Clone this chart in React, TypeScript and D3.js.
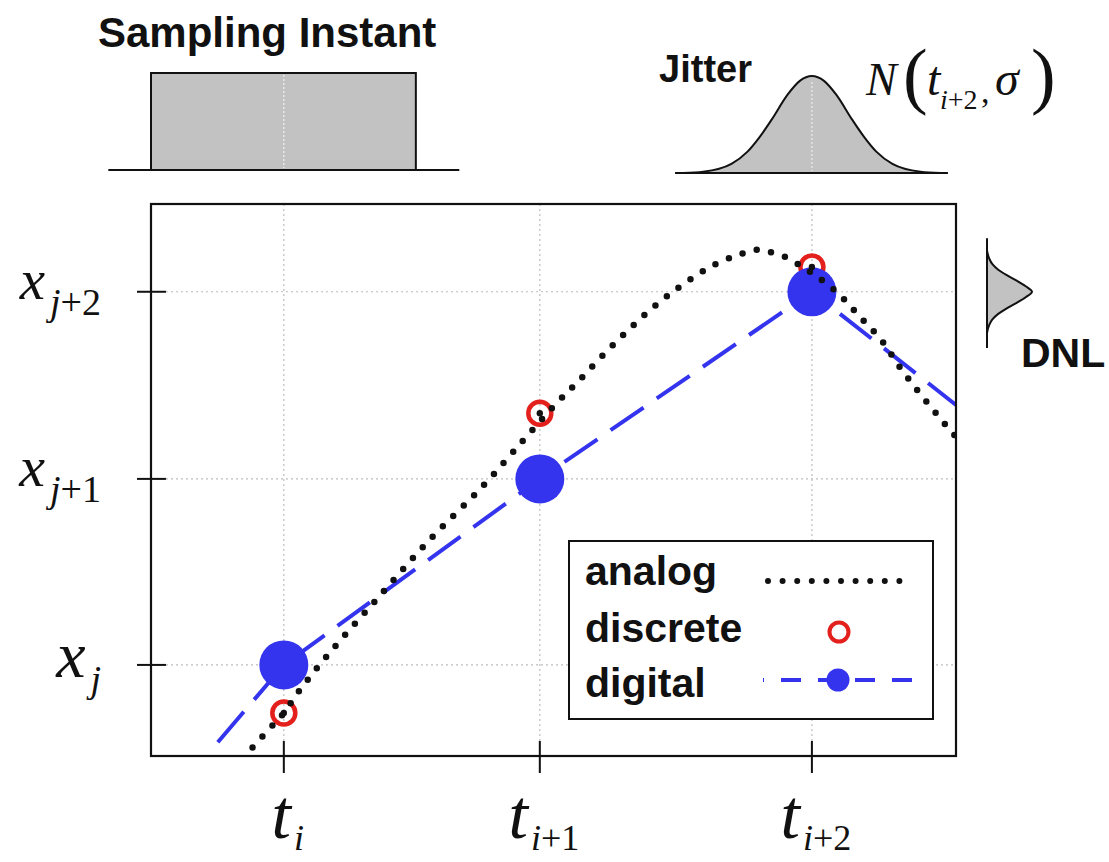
import React from 'react';
import * as d3 from 'd3';

// ---------------- data ----------------
const timeTicks = [16.5, 48.3, 82.1];
const timeSubs = ['i', 'i+1', 'i+2'];
const levelTicks = [16.5, 50.2, 84.1];
const levelSubs = ['j', 'j+1', 'j+2'];

const analogT = [11.4, 14.7, 16.5, 18.4, 22.2, 28.4, 34.7, 41.1, 46.2, 50.3, 52.9, 55.8, 58.9, 62.0, 65.1, 68.2, 70.7, 73.2, 75.3, 76.9, 78.8, 80.6, 81.9, 85.3, 88.1, 90.7, 93.0, 95.4, 97.9, 100];
const analogX = [-0.4, 4.9, 7.8, 11.8, 18.7, 29.0, 39.3, 48.7, 57.1, 63.8, 67.6, 72.1, 76.6, 80.8, 84.4, 87.5, 89.5, 90.9, 91.7, 91.3, 90.4, 88.9, 87.7, 83.9, 79.5, 75.4, 70.5, 65.9, 61.4, 57.8];

const discreteT = [16.5, 48.3, 82.1];
const discreteX = [7.8, 62.1, 88.6];

const digitalT = [16.5, 48.3, 82.1];
const digitalX = [16.5, 50.2, 84.1];
const digitalLineT = [8.3, 16.5, 48.3, 82.1, 100];
const digitalLineX = [2.5, 16.5, 50.2, 84.1, 63.6];

const samplingSupport = [0, 32.9];
const samplingAxis = [-5.3, 38.3];

const jitterOffsets = [-16, -13.5, -10, -8, -6.5, -5, -3, -1.5, 0, 1.5, 3, 5, 6.5, 8, 10, 13.5, 16];
const jitterDensity = [0, 0.013, 0.094, 0.22, 0.37, 0.55, 0.81, 0.95, 1, 0.95, 0.81, 0.55, 0.37, 0.22, 0.094, 0.013, 0];
const jitterAxis = [-17, 16.9];

const dnlOffsets = [-7.5, -6, -5, -4, -3, -2, -1, 0, 1, 2, 3, 4, 5, 6, 7.5];
const dnlDensity = [0, 0.05, 0.12, 0.25, 0.44, 0.66, 0.86, 1, 0.86, 0.66, 0.44, 0.25, 0.12, 0.05, 0];
const dnlAxis = [-10.2, 9.7];

const legendLabels = ['analog', 'discrete', 'digital'];

// ---------------- layout / style ----------------
const W = 1109;
const H = 862;
const PL = 151, PR = 956, PT = 204, PB = 756;
const SANS = '"Liberation Sans", Arial, Helvetica, sans-serif';
const SERIF = '"Liberation Serif", "Times New Roman", Times, serif';
const RED = '#e3201c';
const BLUE = '#3434ee';
const INK = '#111';
const GRAY_FILL = '#c2c2c2';
const levelLabelSize = [66, 58, 57];

export default function App() {
  const x = d3.scaleLinear().domain([0, 100]).range([PL, PR]);
  const y = d3.scaleLinear().domain([0, 100]).range([PB, PT]);

  const analogPts = analogT.map((t, i) => [t, analogX[i]] as [number, number]);
  const analogPath = d3.line<[number, number]>()
    .x(d => x(d[0])).y(d => y(d[1]))
    .curve(d3.curveCatmullRom.alpha(0.5))(analogPts) || '';

  const digitalPts = digitalLineT.map((t, i) => [t, digitalLineX[i]] as [number, number]);
  const digitalPath = d3.line<[number, number]>()
    .x(d => x(d[0])).y(d => y(d[1]))(digitalPts) || '';

  // jitter inset
  const jCenter = timeTicks[2];
  const jy = d3.scaleLinear().domain([0, 1]).range([173, 76]);
  const jPts = jitterOffsets.map((o, i) => [o, jitterDensity[i]] as [number, number]);
  const jArea = d3.area<[number, number]>()
    .x(d => x(jCenter + d[0])).y0(jy(0)).y1(d => jy(d[1]))
    .curve(d3.curveMonotoneX)(jPts) || '';
  const jLine = d3.line<[number, number]>()
    .x(d => x(jCenter + d[0])).y(d => jy(d[1]))
    .curve(d3.curveMonotoneX)(jPts) || '';

  // DNL inset
  const dCenter = levelTicks[2];
  const dx = d3.scaleLinear().domain([0, 1]).range([987, 1032]);
  const dPts = dnlOffsets.map((o, i) => [o, dnlDensity[i]] as [number, number]);
  const dArea = d3.area<[number, number]>()
    .y(d => y(dCenter + d[0])).x0(dx(0)).x1(d => dx(d[1]))
    .curve(d3.curveMonotoneY)(dPts) || '';
  const dLine = d3.line<[number, number]>()
    .y(d => y(dCenter + d[0])).x(d => dx(d[1]))
    .curve(d3.curveMonotoneY)(dPts) || '';

  // sampling inset
  const sTop = 73, sBase = 170;

  const legendRows = [585, 642, 697];

  return (
    <div style={{ position: 'absolute', left: 0, top: 0 }}>
      <svg width={W} height={H} viewBox={`0 0 ${W} ${H}`} style={{ display: 'block', background: '#fff' }}>
        <defs>
          <clipPath id="plotClip">
            <rect x={PL} y={PT} width={PR - PL} height={PB - PT} />
          </clipPath>
        </defs>
        <rect x={0} y={0} width={W} height={H} fill="#fff" />

        {/* ---- Sampling instant inset ---- */}
        <text x={98} y={47} fontFamily={SANS} fontWeight="bold" fontSize={42} fill={INK}>Sampling Instant</text>
        <rect x={x(samplingSupport[0])} y={sTop} width={x(samplingSupport[1]) - x(samplingSupport[0])} height={sBase - sTop}
          fill={GRAY_FILL} stroke={INK} strokeWidth={2} />
        <line x1={x(timeTicks[0])} x2={x(timeTicks[0])} y1={sTop + 2} y2={sBase - 2} stroke="#fff" strokeWidth={1.2} strokeDasharray="2,2" opacity={0.8} />
        <line x1={x(samplingAxis[0])} x2={x(samplingAxis[1])} y1={sBase} y2={sBase} stroke={INK} strokeWidth={2} />

        {/* ---- Jitter inset ---- */}
        <text x={752} y={82} textAnchor="end" fontFamily={SANS} fontWeight="bold" fontSize={38} fill={INK}>Jitter</text>
        <path d={jArea} fill={GRAY_FILL} />
        <line x1={x(jCenter)} x2={x(jCenter)} y1={82} y2={171} stroke="#fff" strokeWidth={1.2} strokeDasharray="2,2" opacity={0.7} />
        <path d={jLine} fill="none" stroke={INK} strokeWidth={2} />
        <line x1={x(jCenter + jitterAxis[0])} x2={x(jCenter + jitterAxis[1])} y1={jy(0)} y2={jy(0)} stroke={INK} strokeWidth={2} />

        {/* N(t_{i+2}, sigma) */}
        <g fontFamily={SERIF} fill={INK}>
          <text x={866} y={95} fontStyle="italic" fontSize={46}>N</text>
          <text x={903} y={100} fontSize={74} fontWeight="300">(</text>
          <text x={927} y={95} fontStyle="italic" fontSize={48}>t</text>
          <text x={940} y={109} fontSize={28}>
            <tspan fontStyle="italic">i</tspan><tspan>+2</tspan>
          </text>
          <text x={981} y={103} fontSize={34}>,</text>
          <text x={995} y={95} fontStyle="italic" fontSize={48}>σ</text>
          <text x={1031} y={100} fontSize={74} fontWeight="300">)</text>
        </g>

        {/* ---- DNL inset ---- */}
        <path d={dArea} fill={GRAY_FILL} />
        <path d={dLine} fill="none" stroke={INK} strokeWidth={2} />
        <line x1={dx(0)} x2={dx(0)} y1={y(dCenter + dnlAxis[0])} y2={y(dCenter + dnlAxis[1])} stroke={INK} strokeWidth={2} />
        <text x={1021} y={367} fontFamily={SANS} fontWeight="bold" fontSize={41} fill={INK}>DNL</text>

        {/* ---- Main plot ---- */}
        <rect x={PL} y={PT} width={PR - PL} height={PB - PT} fill="#fff" />
        <g stroke="#bdbdbd" strokeWidth={1.2} strokeDasharray="2,3">
          {timeTicks.map((t, i) => (
            <line key={'gx' + i} x1={x(t)} x2={x(t)} y1={PT} y2={PB} />
          ))}
          {levelTicks.map((v, i) => (
            <line key={'gy' + i} x1={PL} x2={PR} y1={y(v)} y2={y(v)} />
          ))}
        </g>

        <g clipPath="url(#plotClip)">
          {discreteT.map((t, i) => (
            <circle key={'dr' + i} cx={x(t)} cy={y(discreteX[i])} r={11.5} fill="none" stroke={RED} strokeWidth={4.5} />
          ))}
          <path d={digitalPath} fill="none" stroke={BLUE} strokeWidth={4} strokeDasharray="40,16" />
          {digitalT.map((t, i) => (
            <circle key={'dg' + i} cx={x(t)} cy={y(digitalX[i])} r={24.5} fill={BLUE} />
          ))}
          <path d={analogPath} fill="none" stroke={INK} strokeWidth={6.5} strokeLinecap="round" strokeDasharray="0,14.6" />
          {discreteT.map((t, i) => (
            <circle key={'dc' + i} cx={x(t)} cy={y(discreteX[i])} r={3.2} fill={INK} />
          ))}
        </g>

        {/* frame */}
        <rect x={PL} y={PT} width={PR - PL} height={PB - PT} fill="none" stroke={INK} strokeWidth={2.2} />

        {/* y ticks and labels */}
        {levelTicks.map((v, i) => (
          <g key={'yt' + i}>
            <line x1={PL - 14} x2={PL + 15} y1={y(v)} y2={y(v)} stroke={INK} strokeWidth={2} />
            <text x={101} y={y(v) + (i === 0 ? 12 : 7)} textAnchor="end" fontFamily={SERIF} fill={INK}>
              <tspan fontStyle="italic" fontSize={levelLabelSize[i]}>x</tspan>
              <tspan dx={5} dy={i === 0 ? 15 : 16} fontSize={38}>
                <tspan fontStyle="italic">{levelSubs[i].slice(0, 1)}</tspan>
                <tspan>{levelSubs[i].slice(1)}</tspan>
              </tspan>
            </text>
          </g>
        ))}

        {/* x ticks and labels */}
        {timeTicks.map((t, i) => (
          <g key={'xt' + i}>
            <line x1={x(t)} x2={x(t)} y1={PB - 15} y2={PB + 17} stroke={INK} strokeWidth={2} />
            <text x={x(t) + 4} y={838} textAnchor="middle" fontFamily={SERIF} fill={INK}>
              <tspan fontStyle="italic" fontSize={70}>t</tspan>
              <tspan dx={3} dy={12} fontSize={36}>
                <tspan fontStyle="italic">{timeSubs[i].slice(0, 1)}</tspan>
                <tspan>{timeSubs[i].slice(1)}</tspan>
              </tspan>
            </text>
          </g>
        ))}

        {/* ---- legend ---- */}
        <rect x={569} y={541} width={364} height={178} fill="#fff" stroke={INK} strokeWidth={2} />
        {legendLabels.map((lab, i) => (
          <text key={'lg' + i} x={585} y={legendRows[i]} fontFamily={SANS} fontWeight="bold" fontSize={41} fill={INK}>{lab}</text>
        ))}
        <line x1={768} x2={901} y1={581} y2={581} stroke={INK} strokeWidth={6} strokeLinecap="round" strokeDasharray="0,14.6" />
        <circle cx={839} cy={632} r={9.5} fill="none" stroke={RED} strokeWidth={4} />
        <line x1={763} x2={915} y1={680} y2={680} stroke={BLUE} strokeWidth={4} strokeDasharray="20,17" strokeDashoffset={19} />
        <circle cx={838} cy={680} r={11.5} fill={BLUE} />
      </svg>
    </div>
  );
}
